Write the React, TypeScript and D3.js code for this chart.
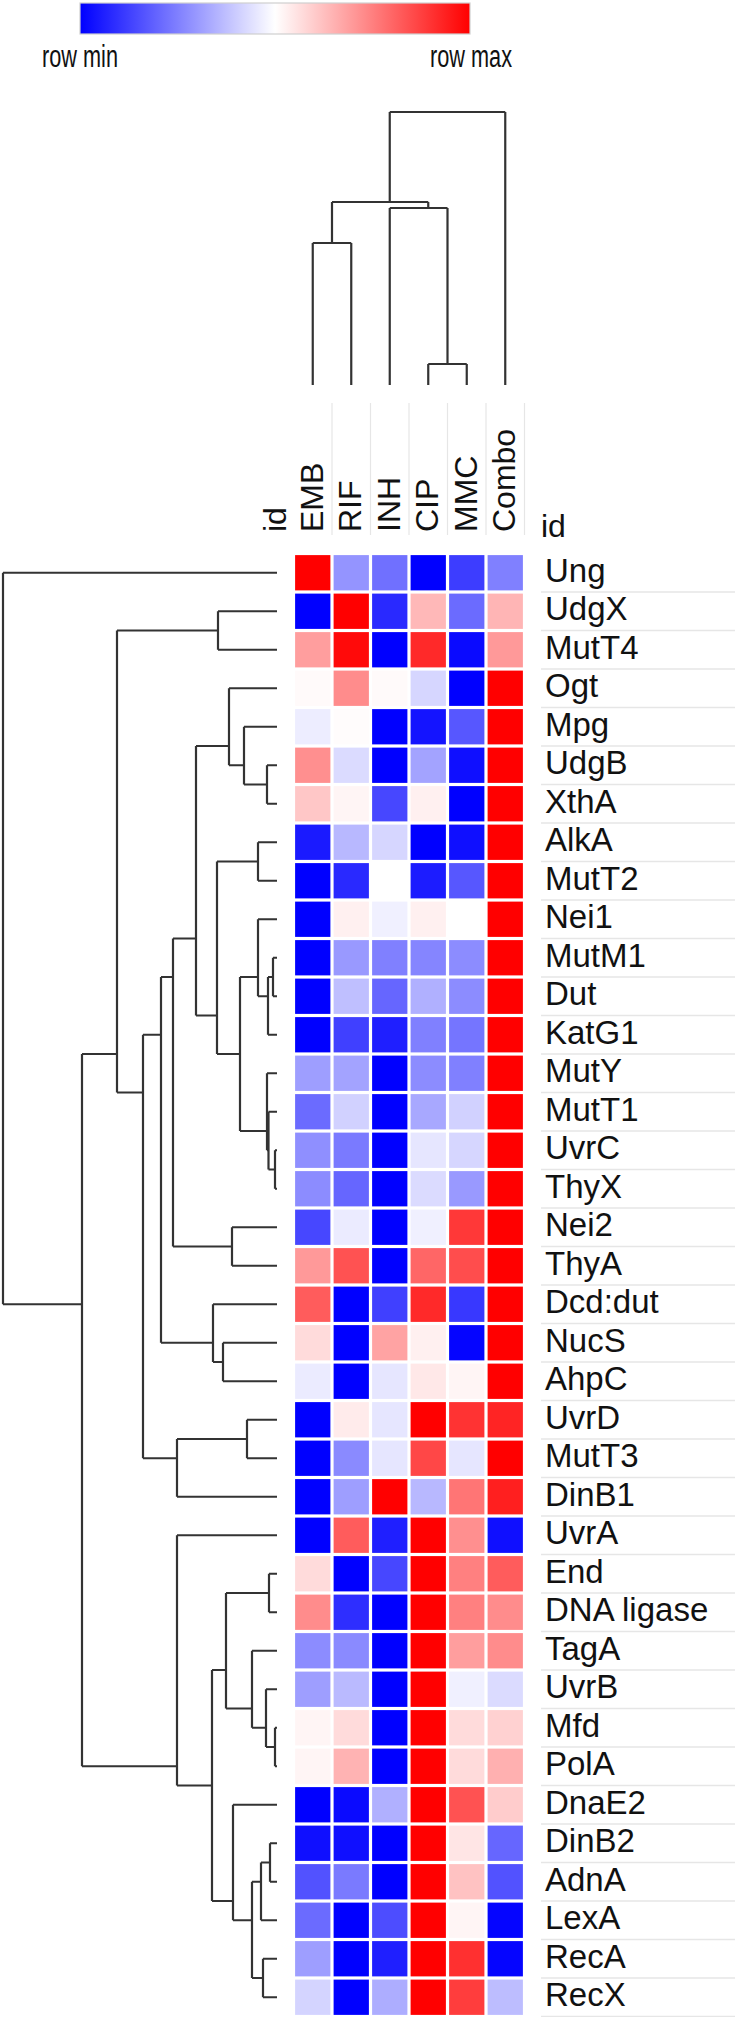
import React from "react";
import * as d3 from "d3";

// ---------- DATA ----------
const genes = [
  "Ung", "UdgX", "MutT4", "Ogt", "Mpg", "UdgB", "XthA", "AlkA", "MutT2", "Nei1",
  "MutM1", "Dut", "KatG1", "MutY", "MutT1", "UvrC", "ThyX", "Nei2", "ThyA", "Dcd:dut",
  "NucS", "AhpC", "UvrD", "MutT3", "DinB1", "UvrA", "End", "DNA ligase", "TagA", "UvrB",
  "Mfd", "PolA", "DnaE2", "DinB2", "AdnA", "LexA", "RecA", "RecX",
];
const conditions = ["EMB", "RIF", "INH", "CIP", "MMC", "Combo"];

// row-scaled values (0 = row min, 1 = row max), one array per condition, in gene order
const EMB = [1, 0, 0.69, 0.51, 0.465, 0.72, 0.61, 0.05, 0, 0, 0, 0, 0, 0.31, 0.21, 0.28, 0.275, 0.14, 0.7, 0.82, 0.57, 0.46, 0, 0, 0, 0, 0.57, 0.725, 0.275, 0.31, 0.52, 0.52, 0, 0.03, 0.16, 0.21, 0.31, 0.415];
const RIF = [0.29, 1, 0.98, 0.725, 0.505, 0.43, 0.52, 0.36, 0.08, 0.53, 0.3, 0.375, 0.125, 0.32, 0.41, 0.24, 0.2, 0.46, 0.84, 0, 0, 0, 0.54, 0.27, 0.31, 0.82, 0, 0.09, 0.27, 0.365, 0.57, 0.65, 0.02, 0.03, 0.24, 0, 0, 0];
const INH = [0.22, 0.08, 0, 0.51, 0, 0, 0.14, 0.42, 0.5, 0.47, 0.25, 0.2, 0.06, 0, 0, 0, 0, 0, 0, 0.125, 0.68, 0.45, 0.45, 0.45, 1, 0.06, 0.14, 0, 0, 0, 0, 0, 0.345, 0, 0, 0.15, 0.06, 0.34];
const CIP = [0, 0.64, 0.92, 0.42, 0.04, 0.32, 0.53, 0, 0.055, 0.53, 0.26, 0.345, 0.25, 0.275, 0.33, 0.45, 0.43, 0.47, 0.8, 0.92, 0.53, 0.545, 1, 0.86, 0.36, 1, 1, 1, 1, 1, 1, 1, 1, 1, 1, 1, 1, 1];
const MMC = [0.12, 0.21, 0.02, 0, 0.17, 0.03, 0, 0.03, 0.17, 0.5, 0.275, 0.275, 0.23, 0.25, 0.41, 0.42, 0.3, 0.89, 0.85, 0.11, 0.01, 0.52, 0.9, 0.45, 0.77, 0.72, 0.75, 0.75, 0.69, 0.47, 0.57, 0.57, 0.84, 0.55, 0.62, 0.52, 0.905, 0.88];
const Combo = [0.25, 0.645, 0.7, 1, 1, 1, 1, 1, 1, 1, 1, 1, 1, 1, 1, 1, 1, 1, 1, 1, 1, 1, 0.93, 1, 0.94, 0.03, 0.82, 0.725, 0.725, 0.43, 0.59, 0.655, 0.6, 0.2, 0.16, 0.01, 0.01, 0.37];
const seriesByCondition: Record<string, number[]> = { EMB, RIF, INH, CIP, MMC, Combo };

// row dendrogram merges: [node, childA, childB, distance]
const rowMerges: [string, string, string, number][] = [
  ["W", "UvrC", "ThyX", 2],
  ["EE", "Mfd", "PolA", 2],
  ["J", "MutM1", "Dut", 4],
  ["II", "DinB2", "AdnA", 7],
  ["BB", "End", "DNA ligase", 8],
  ["X", "MutT1", "W", 8.5],
  ["I", "J", "KatG1", 9],
  ["K", "MutY", "X", 10],
  ["C", "UdgB", "XthA", 10],
  ["DD", "UvrB", "EE", 11],
  ["HH", "RecA", "RecX", 14],
  ["GG", "II", "LexA", 16],
  ["F", "AlkA", "MutT2", 19],
  ["H", "Nei1", "I", 19],
  ["CC", "TagA", "DD", 25],
  ["FF", "GG", "HH", 25],
  ["S", "UvrD", "MutT3", 30],
  ["B", "Mpg", "C", 33],
  ["G", "H", "K", 37],
  ["AA", "DnaE2", "FF", 44],
  ["V", "Nei2", "ThyA", 45],
  ["A", "Ogt", "B", 48],
  ["Z", "BB", "CC", 51],
  ["U", "NucS", "AhpC", 54],
  ["UM", "UdgX", "MutT4", 59],
  ["D", "F", "G", 60],
  ["T", "Dcd:dut", "U", 64],
  ["Y", "Z", "AA", 65],
  ["E", "A", "D", 81],
  ["R", "S", "DinB1", 100],
  ["Q", "UvrA", "Y", 100],
  ["L", "E", "V", 104],
  ["M", "L", "T", 116],
  ["N", "M", "R", 134],
  ["O", "UM", "N", 160],
  ["P", "O", "Q", 195],
  ["root", "Ung", "P", 274],
];

// column dendrogram merges
const colMerges: [string, string, string, number][] = [
  ["cm", "CIP", "MMC", 21],
  ["er", "EMB", "RIF", 142],
  ["icm", "INH", "cm", 177],
  ["five", "er", "icm", 183],
  ["croot", "five", "Combo", 273],
];

// ---------- HELPERS ----------
type TNode = { name: string; height: number; children?: TNode[] };
function buildTree(merges: [string, string, string, number][]): TNode {
  const map = new Map<string, TNode>();
  const get = (n: string) => map.get(n) || { name: n, height: 0 };
  let last: TNode | null = null;
  for (const [id, a, b, h] of merges) {
    const node: TNode = { name: id, height: h, children: [get(a), get(b)] };
    map.set(id, node);
    last = node;
  }
  return last as TNode;
}

const FONT = "'Liberation Sans', Arial, Helvetica, sans-serif";
const LINE = "#333333";

export default function App() {
  const W = 735;
  const H = 2017;
  const rowTop = 553.5;
  const pitch = 38.5;
  const colLeft = 293.5;
  const gap = 1.6;

  const yBand = d3.scaleBand<string>().domain(genes).range([rowTop, rowTop + pitch * genes.length]);
  const xBand = d3.scaleBand<string>().domain(conditions).range([colLeft, colLeft + pitch * conditions.length]);
  const color = d3.scaleLinear<string>().domain([0, 0.5, 1]).range(["#0000ff", "#ffffff", "#ff0000"]);

  // row dendrogram
  const rowRoot = d3.hierarchy(buildTree(rowMerges));
  const rowX = d3.scaleLinear().domain([0, rowRoot.data.height]).range([277, 3]);
  const rowPos = (n: d3.HierarchyNode<TNode>) => d3.mean(n.leaves(), (l) => yBand(l.data.name)! + yBand.bandwidth() / 2)!;

  const rowPaths: string[] = [];
  rowRoot.each((n) => {
    if (!n.children) return;
    const px = rowX(n.data.height);
    const ys = n.children.map(rowPos);
    const p = d3.path();
    p.moveTo(px, d3.min(ys)!);
    p.lineTo(px, d3.max(ys)!);
    n.children.forEach((c, i) => {
      p.moveTo(px, ys[i]);
      p.lineTo(rowX(c.data.height), ys[i]);
    });
    rowPaths.push(p.toString());
  });

  // column dendrogram
  const colRoot = d3.hierarchy(buildTree(colMerges));
  const colY = d3.scaleLinear().domain([0, colRoot.data.height]).range([385, 112]);
  const colPos = (n: d3.HierarchyNode<TNode>) => d3.mean(n.leaves(), (l) => xBand(l.data.name)! + xBand.bandwidth() / 2)!;
  const colPaths: string[] = [];
  colRoot.each((n) => {
    if (!n.children) return;
    const py = colY(n.data.height);
    const xs = n.children.map(colPos);
    const p = d3.path();
    p.moveTo(d3.min(xs)!, py);
    p.lineTo(d3.max(xs)!, py);
    n.children.forEach((c, i) => {
      p.moveTo(xs[i], py);
      p.lineTo(xs[i], colY(c.data.height));
    });
    colPaths.push(p.toString());
  });

  const legendScale = d3.scaleLinear().domain([0, 1]).range([80, 470]);

  return (
    <svg width={W} height={H} style={{ position: "absolute", left: 0, top: 0, background: "#fff" }} fontFamily={FONT}>
      <defs>
        <linearGradient id="lg" x1="0" x2="1" y1="0" y2="0">
          {[0, 0.5, 1].map((t) => (
            <stop key={t} offset={`${t * 100}%`} stopColor={color(t)} />
          ))}
        </linearGradient>
      </defs>
      {/* legend */}
      <rect x={legendScale(0)} y={3} width={legendScale(1) - legendScale(0)} height={31} fill="url(#lg)" stroke="#cfcfcf" strokeWidth={1.2} />
      <text x={legendScale(0)} y={67} fontSize={31} textAnchor="middle" textLength={76} lengthAdjust="spacingAndGlyphs" fill="#111">row min</text>
      <text x={legendScale(1) + 1} y={67} fontSize={31} textAnchor="middle" textLength={82} lengthAdjust="spacingAndGlyphs" fill="#111">row max</text>

      {/* column dendrogram */}
      {colPaths.map((d, i) => (
        <path key={i} d={d} fill="none" stroke={LINE} strokeWidth={2.2} />
      ))}

      {/* header separators */}
      {conditions.map((c) => (
        <line key={c} x1={xBand(c)! + pitch} x2={xBand(c)! + pitch} y1={403} y2={535} stroke="#e6e6e6" strokeWidth={1.2} />
      ))}

      {/* column labels */}
      <text transform="translate(286,532) rotate(-90)" fontSize={32} fill="#111">id</text>
      {conditions.map((c) => (
        <text key={c} transform={`translate(${xBand(c)! + xBand.bandwidth() / 2 + 10},532) rotate(-90)`} fontSize={32} fill="#111">
          {c}
        </text>
      ))}
      <text x={541} y={537} fontSize={32} fill="#111">id</text>

      {/* row dendrogram */}
      {rowPaths.map((d, i) => (
        <path key={i} d={d} fill="none" stroke={LINE} strokeWidth={2.2} />
      ))}

      {/* cells */}
      {genes.map((g, gi) =>
        conditions.map((c) => (
          <rect
            key={g + c}
            x={xBand(c)! + gap}
            y={yBand(g)! + gap}
            width={xBand.bandwidth() - 2 * gap}
            height={yBand.bandwidth() - 2 * gap}
            fill={color(seriesByCondition[c][gi])}
          />
        ))
      )}

      {/* row labels and separators */}
      {genes.map((g) => (
        <g key={g}>
          <text x={545} y={yBand(g)! + yBand.bandwidth() / 2 + 9} fontSize={33} fill="#111">
            {g}
          </text>
          <line x1={541} x2={W} y1={yBand(g)! + pitch} y2={yBand(g)! + pitch} stroke="#e6e6e6" strokeWidth={1.5} />
        </g>
      ))}
    </svg>
  );
}
